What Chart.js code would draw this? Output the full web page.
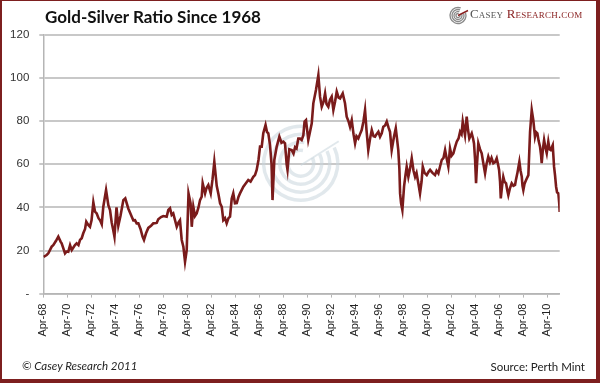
<!DOCTYPE html>
<html>
<head>
<meta charset="utf-8">
<script src="https://cdn.jsdelivr.net/npm/chart.js@4.4.1/dist/chart.umd.min.js"></script>
<style>
  html, body { margin: 0; padding: 0; background: #fff; }
  #wrap { position: relative; width: 600px; height: 383px; overflow: hidden; background: #fff; }
  #c { position: absolute; left: 0; top: 0; }
  #frame { position: absolute; left: 0; top: 0; width: 600px; height: 383px; box-sizing: border-box;
           border-left: 2px solid #7d1f1f; border-top: 1px solid #7d1f1f; border-right: 4px solid #7d1f1f; border-bottom: 4px solid #7d1f1f; pointer-events: none; }
  .txt { position: absolute; white-space: nowrap; }
  #title { left: 45px; top: 6px; font: bold 17px Lato, "Open Sans", sans-serif; color: #111; }
  #logo { left: 470px; top: 6px; font: 13px "Liberation Serif", "DejaVu Serif", serif; font-variant: small-caps; letter-spacing: 0.2px; }
  #logo .a { color: #555; }
  #logo .b { color: #8a2222; }
  #copy { left: 22px; top: 359px; font: italic 11.5px Lato, "Open Sans", sans-serif; color: #222; }
  #src { right: 15px; top: 360px; font: 11.5px Lato, "Open Sans", sans-serif; color: #222; }
</style>
</head>
<body>
<div id="wrap">
  <canvas id="c" width="600" height="383"></canvas>
  <div class="txt" id="title">Gold-Silver Ratio Since 1968</div>
  <div class="txt" id="logo"><span class="a">Casey</span> <span class="b">Research.com</span></div>
  <div class="txt" id="copy">© Casey Research 2011</div>
  <div class="txt" id="src">Source: Perth Mint</div>
  <div id="frame"></div>
</div>
<script>
// Decimal year of each observation
const years = [
1968.27,1968.53,1968.67,1968.95,1969.08,1969.31,1969.50,1969.70,1969.78,1970.06,
1970.18,1970.33,1970.48,1970.62,1970.77,1970.89,1971.03,1971.18,1971.31,1971.45,
1971.58,1971.73,1971.83,1971.98,1972.14,1972.27,1972.42,1972.56,1972.70,1972.85,
1972.98,1973.12,1973.25,1973.48,1973.67,1973.81,1973.95,1974.06,1974.18,1974.35,
1974.50,1974.68,1974.92,1975.08,1975.33,1975.48,1975.62,1975.75,1975.89,1976.03,
1976.17,1976.35,1976.52,1976.64,1976.81,1977.00,1977.23,1977.42,1977.70,1977.83,
1978.06,1978.25,1978.53,1978.67,1978.81,1978.95,1979.08,1979.37,1979.52,1979.64,
1979.78,1979.92,1980.06,1980.20,1980.35,1980.52,1980.62,1980.75,1980.89,1981.03,
1981.18,1981.31,1981.45,1981.53,1981.73,1981.85,1982.00,1982.20,1982.35,1982.50,
1982.70,1982.85,1982.98,1983.12,1983.25,1983.39,1983.53,1983.68,1983.81,1983.95,
1984.08,1984.22,1984.37,1984.52,1984.64,1984.92,1985.10,1985.33,1985.52,1985.75,
1985.89,1986.03,1986.18,1986.31,1986.45,1986.58,1986.77,1986.89,1987.00,1987.14,
1987.27,1987.35,1987.50,1987.70,1987.92,1988.10,1988.25,1988.39,1988.53,1988.60,
1988.75,1988.95,1989.10,1989.23,1989.35,1989.50,1989.64,1989.78,1989.92,1990.02,
1990.14,1990.33,1990.47,1990.62,1990.75,1990.97,1991.17,1991.31,1991.45,1991.60,
1991.73,1991.85,1992.00,1992.14,1992.28,1992.42,1992.56,1992.70,1992.85,1992.98,
1993.20,1993.39,1993.53,1993.68,1993.81,1993.95,1994.10,1994.23,1994.35,1994.50,
1994.64,1994.78,1994.93,1995.06,1995.18,1995.33,1995.48,1995.62,1995.77,1995.89,
1996.02,1996.17,1996.31,1996.45,1996.58,1996.73,1996.87,1997.02,1997.14,1997.28,
1997.47,1997.62,1997.72,1997.83,1997.92,1997.98,1998.06,1998.17,1998.31,1998.43,
1998.53,1998.67,1998.81,1998.95,1999.10,1999.23,1999.35,1999.50,1999.64,1999.77,
1999.87,2000.02,2000.20,2000.35,2000.48,2000.68,2000.89,2001.02,2001.17,2001.31,
2001.45,2001.60,2001.73,2001.85,2002.00,2002.14,2002.27,2002.42,2002.56,2002.70,
2002.85,2002.98,2003.10,2003.20,2003.31,2003.39,2003.53,2003.64,2003.75,2003.95,
2004.06,2004.14,2004.23,2004.31,2004.39,2004.50,2004.64,2004.78,2004.93,2005.06,
2005.18,2005.33,2005.47,2005.60,2005.75,2005.89,2006.03,2006.14,2006.23,2006.31,
2006.37,2006.48,2006.58,2006.68,2006.81,2006.91,2007.00,2007.14,2007.28,2007.43,
2007.56,2007.64,2007.75,2007.85,2007.92,2008.02,2008.12,2008.18,2008.25,2008.35,
2008.48,2008.67,2008.81,2008.95,2009.08,2009.22,2009.31,2009.42,2009.52,2009.64,
2009.73,2009.78,2009.88,2009.98,2010.08,2010.20,2010.33,2010.43,2010.53,2010.70,
2010.81,2010.89,2010.98,2011.06,2011.17,2011.24,2011.28
];
// Gold-silver ratio (ounces of silver per ounce of gold)
const ratio = [
17.0,17.9,18.7,21.8,22.5,24.5,26.4,24.0,23.3,18.7,
19.5,19.4,22.5,20.2,21.5,22.5,23.3,22.5,24.9,25.7,
28.0,30.0,33.4,32.0,31.0,34.0,42.3,38.0,37.2,35.0,
34.0,32.2,40.3,48.0,41.0,38.8,33.0,30.0,26.4,40.0,
31.5,36.0,43.4,44.2,39.5,37.5,35.7,34.0,34.1,32.6,
32.6,30.0,26.5,24.9,28.0,30.5,31.5,32.6,32.8,34.5,
35.5,36.0,35.7,38.8,39.6,36.5,37.2,31.0,33.0,34.0,
25.0,21.8,14.8,20.2,46.5,42.0,31.0,40.3,36.0,37.2,
40.0,43.4,45.0,51.2,46.5,49.0,50.4,46.5,53.0,61.2,
50.0,46.0,41.9,40.3,34.1,35.0,32.6,35.0,35.7,44.0,
46.5,41.9,42.0,45.0,46.5,49.6,51.0,52.7,52.0,54.2,
55.0,57.4,62.0,68.2,68.2,74.4,78.2,75.0,74.4,69.0,
60.0,43.4,62.0,68.2,72.8,70.0,70.5,69.7,60.0,57.4,
67.0,66.6,65.0,68.0,67.4,72.0,72.0,71.3,73.5,79.8,
80.5,71.3,75.0,79.0,88.3,94.5,101.4,91.4,86.7,89.0,
92.9,88.0,86.7,90.0,91.4,85.2,89.0,93.7,91.0,90.6,
92.9,88.3,82.1,80.0,77.4,80.5,74.0,69.7,73.0,72.0,
74.0,75.9,80.0,85.2,76.0,66.6,72.0,75.9,73.0,72.8,
74.0,75.1,72.8,74.4,77.4,78.0,79.8,77.0,75.1,66.6,
72.8,76.7,72.0,66.6,58.0,46.5,42.0,38.8,49.6,55.0,
58.9,54.2,58.0,62.8,57.0,54.2,56.0,51.2,46.5,52.0,
58.9,56.0,55.0,56.5,57.4,56.0,55.0,57.0,55.8,59.0,
62.0,63.0,66.6,63.0,58.9,67.4,64.0,65.1,68.0,70.5,
72.0,75.1,74.0,79.8,76.0,73.5,82.1,76.0,72.0,74.4,
72.0,69.7,62.0,51.2,60.0,69.7,67.0,65.1,60.0,55.8,
60.0,63.5,61.0,63.0,60.5,61.0,62.8,60.0,57.4,52.0,
44.2,50.0,54.2,52.0,51.2,48.0,45.7,49.0,51.2,50.0,
50.4,53.0,55.8,59.0,61.2,57.0,54.2,50.0,48.0,51.0,
52.7,55.0,75.1,85.2,80.5,72.8,75.0,74.4,71.0,68.2,
64.0,60.5,67.0,71.3,68.0,65.1,70.5,67.0,66.6,68.9,
58.9,55.0,49.6,47.0,46.5,42.0,37.9
];
// X axis ticks (every second April)
const tickYears = [1968.25,1970.25,1972.25,1974.25,1976.25,1978.25,1980.25,1982.25,1984.25,1986.25,1988.25,
                   1990.25,1992.25,1994.25,1996.25,1998.25,2000.25,2002.25,2004.25,2006.25,2008.25,2010.25];
const tickLabels = ["Apr-68","Apr-70","Apr-72","Apr-74","Apr-76","Apr-78","Apr-80","Apr-82","Apr-84","Apr-86","Apr-88",
                    "Apr-90","Apr-92","Apr-94","Apr-96","Apr-98","Apr-00","Apr-02","Apr-04","Apr-06","Apr-08","Apr-10"];
const yMin = 0, yMax = 120, yStep = 20;

const decor = {
  id: 'decor',
  beforeDatasetsDraw(chart) {
    const ctx = chart.ctx;
    const xs = chart.scales.x, ys = chart.scales.y;
    // faint watermark (spiral logo) in the middle of the plot
    const cx = xs.getPixelForValue(1989.7), cy = ys.getPixelForValue(60.5);
    ctx.save();
    ctx.strokeStyle = 'rgba(200,214,220,0.55)';
    ctx.lineWidth = 3.5;
    [37, 29, 21, 13].forEach(r => {
      ctx.beginPath();
      ctx.arc(cx, cy, r, -25 * Math.PI / 180, 280 * Math.PI / 180);
      ctx.stroke();
    });
    ctx.lineWidth = 2;
    ctx.beginPath();
    ctx.moveTo(cx, cy + 2);
    ctx.lineTo(cx + 38, cy - 22);
    ctx.stroke();
    ctx.restore();
  },
  afterDraw(chart) {
    // small spiral logo icon beside the brand text
    const ctx = chart.ctx;
    const cx = 458, cy = 15.5;
    ctx.save();
    ctx.strokeStyle = '#8a8a8a';
    ctx.lineWidth = 1.3;
    [8, 6, 4, 2].forEach(r => {
      ctx.beginPath();
      ctx.arc(cx, cy, r, -20 * Math.PI / 180, 290 * Math.PI / 180);
      ctx.stroke();
    });
    ctx.strokeStyle = '#8a2222';
    ctx.lineWidth = 1.4;
    ctx.beginPath();
    ctx.moveTo(cx, cy);
    ctx.lineTo(cx + 10, cy - 5);
    ctx.stroke();
    ctx.restore();
  }
};

new Chart(document.getElementById('c'), {
  type: 'line',
  data: {
    datasets: [{
      data: years.map((y, i) => ({ x: y, y: ratio[i] })),
      borderColor: '#7a1b1b',
      borderWidth: 2.6,
      pointRadius: 0,
      tension: 0,
      fill: false
    }]
  },
  options: {
    responsive: false,
    devicePixelRatio: 1,
    animation: false,
    layout: { padding: { left: 0, top: 35, right: 40.3, bottom: 0 } },
    plugins: { legend: { display: false }, tooltip: { enabled: false }, title: { display: false } },
    scales: {
      x: {
        type: 'linear',
        min: 1968.25,
        max: 2011.28,
        afterBuildTicks(scale) { scale.ticks = tickYears.map(v => ({ value: v })); },
        afterFit(scale) { scale.height = 89.4; },
        ticks: {
          autoSkip: false,
          maxRotation: 90,
          minRotation: 90,
          padding: 6,
          color: '#222',
          font: { family: "'Liberation Sans', Arial, sans-serif", size: 11 },
          callback: (v, i) => tickLabels[i]
        },
        grid: { drawOnChartArea: false, drawTicks: true, tickLength: 4, color: '#b5b5b5', lineWidth: 1 },
        border: { color: '#b5b5b5', width: 1.5 }
      },
      y: {
        min: yMin,
        max: yMax,
        afterFit(scale) { scale.width = 43.3; },
        ticks: {
          stepSize: yStep,
          padding: 10,
          color: '#333',
          font: { family: "'Liberation Sans', Arial, sans-serif", size: 11.5 },
          callback: v => (v === 0 ? '-' : String(v))
        },
        grid: { color: '#c8c8c8', lineWidth: 2, tickLength: 4 },
        border: { color: '#b5b5b5', width: 1.5 }
      }
    }
  },
  plugins: [decor]
});
</script>
</body>
</html>
